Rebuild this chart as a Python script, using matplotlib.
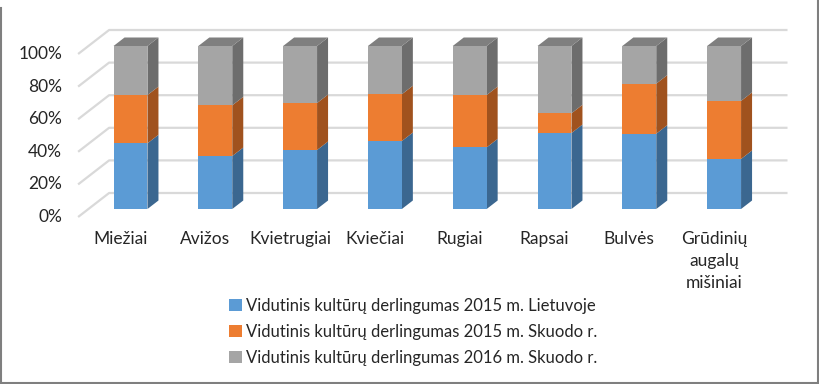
import matplotlib
matplotlib.use("Agg")
import matplotlib.pyplot as plt
from matplotlib.patches import Polygon, Patch
from matplotlib.lines import Line2D

plt.rcParams['font.family'] = ['Lato', 'DejaVu Sans']

# data (shares of each crop, %)
categories = ['Miežiai', 'Avižos', 'Kvietrugiai', 'Kviečiai', 'Rugiai',
              'Rapsai', 'Bulvės', 'Grūdinių\naugalų\nmišiniai']
lt_2015 = [40.3, 32.5, 36.2, 41.7, 37.8, 46.6, 46.2, 30.7]
skuodas_2015 = [29.6, 31.1, 28.8, 28.7, 32.1, 12.1, 30.7, 35.6]
skuodas_2016 = [30.1, 36.4, 35.0, 29.6, 30.1, 41.3, 23.1, 33.7]
series_names = ['Vidutinis kultūrų derlingumas 2015 m. Lietuvoje',
                'Vidutinis kultūrų derlingumas 2015 m. Skuodo r.',
                'Vidutinis kultūrų derlingumas 2016 m. Skuodo r.']
yticks = [0, 20, 40, 60, 80, 100]

front_cols = ['#5B9BD5', '#ED7D31', '#A5A5A5']
side_cols = ['#3B6790', '#A0521E', '#6D6D6D']
top_col = '#7F7F7F'

W, H = 820, 384
fig = plt.figure(figsize=(W / 100, H / 100), dpi=100)
ax = fig.add_axes([0, 0, 1, 1])

# pixel scale of the plot
PX_CAT = 84.8     # pixels per category
PX_PCT = 1.63     # pixels per percent
X0_PX, Y0_PX = 130.5, 209   # first bar centre / zero line (front face)
ax.set_xlim(-X0_PX / PX_CAT, (W - X0_PX) / PX_CAT)
ax.set_ylim((Y0_PX - H) / PX_PCT, Y0_PX / PX_PCT)
ax.axis('off')

def dxp(p):
    return p / PX_CAT

def dyp(p):
    return p / PX_PCT

# 3D offsets (pixels -> data)
front_off = (dxp(-10), dyp(-8))
back_off = (dxp(21), dyp(16))
bar_off = (dxp(11), dyp(8.5))
bw = 0.40

n = len(categories)
xs = list(range(n))

# back wall gridlines
for v in yticks:
    xa, ya = -0.5 + front_off[0], v + front_off[1]
    xb, yb = -0.5 + back_off[0], v + back_off[1]
    xc = n - 0.5 + back_off[0]
    ax.plot([xa, xb, xc], [ya, yb, yb], color='#D9D9D9', lw=1.6, zorder=1,
            solid_capstyle='butt')
    ax.text(xa - dxp(16), ya, f'{v}%', ha='right', va='center',
            fontsize=12.5, color='#262626')

# bars
series = [lt_2015, skuodas_2015, skuodas_2016]
bottoms = [0.0] * n
for k, vals in enumerate(series):
    ax.bar(xs, vals, bw, bottom=bottoms, color=front_cols[k], zorder=3,
           linewidth=0)
    for i in xs:
        y0, y1 = bottoms[i], bottoms[i] + vals[i]
        xr = i + bw / 2
        ax.add_patch(Polygon([(xr, y0), (xr + bar_off[0], y0 + bar_off[1]),
                              (xr + bar_off[0], y1 + bar_off[1]), (xr, y1)],
                             closed=True, facecolor=side_cols[k], lw=0,
                             zorder=2.5))
    bottoms = [b + v for b, v in zip(bottoms, vals)]

for i in xs:
    xl, xr, t = i - bw / 2, i + bw / 2, bottoms[i]
    ax.add_patch(Polygon([(xl, t), (xl + bar_off[0], t + bar_off[1]),
                          (xr + bar_off[0], t + bar_off[1]), (xr, t)],
                         closed=True, facecolor=top_col, lw=0, zorder=2.5))

# category labels
for i, c in enumerate(categories):
    ax.text(i + front_off[0], front_off[1] - dyp(14), c, ha='center', va='top',
            fontsize=12.5, color='#262626', linespacing=1.45)

# legend
handles = [Patch(facecolor=c, edgecolor='none') for c in front_cols]
fig.legend(handles, series_names, loc='upper left',
           bbox_to_anchor=(229 / W, 1 - 298 / H), frameon=False,
           fontsize=12, handlelength=0.75, handleheight=0.75,
           handletextpad=0.3, labelspacing=0.6, borderpad=0,
           borderaxespad=0, labelcolor='#262626')

# outer frame: left, right, bottom edges
frame = dict(color='#7F7F7F', lw=1.5, transform=fig.transFigure)
fig.add_artist(Line2D([0.6 / W, 0.6 / W], [0, 1 - 8 / H], **frame))
fig.add_artist(Line2D([1 - 1.5 / W, 1 - 1.5 / W], [0, 1], **frame))
fig.add_artist(Line2D([0, 1], [0.8 / H, 0.8 / H], **frame))

fig.savefig('out.png', dpi=100)
